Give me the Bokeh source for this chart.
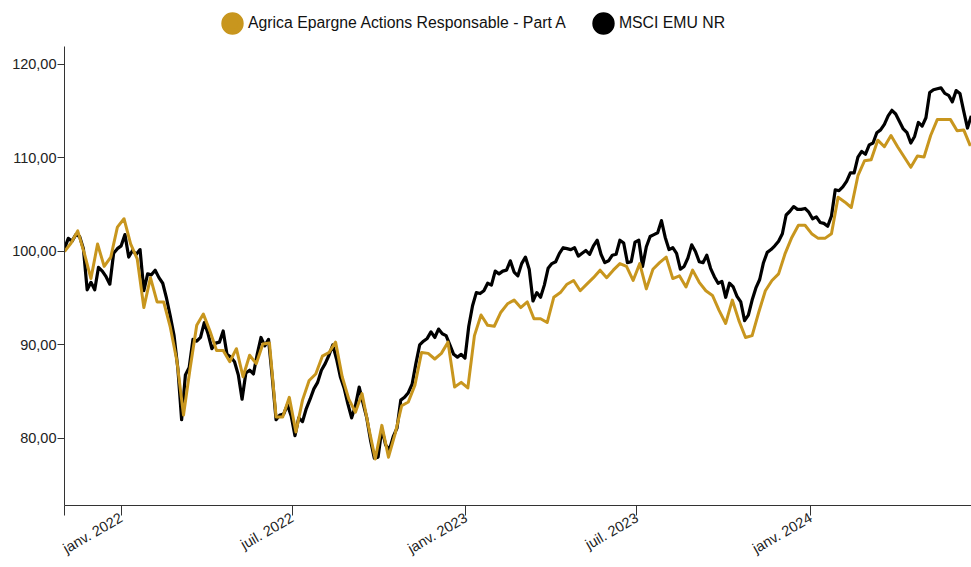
import math
import pandas as pd
from bokeh.plotting import figure
from bokeh.models import (Range1d, FixedTicker, CustomJSTickFormatter, Legend,
                          LegendItem)
from bokeh.embed import file_html
from bokeh.resources import INLINE

START = "2021-11-02"
END = "2024-06-19 06:00"

series_names = ["Agrica Epargne Actions Responsable - Part A", "MSCI EMU NR"]
series_colors = ["#C8961E", "#000000"]

# Fund: weekly values (base 100)
fund_values = [
    100.0, 100.9, 102.2, 99.8, 97.1, 100.8, 98.4, 99.4, 102.6, 103.5,
    100.8, 99.2, 94.0, 97.2, 94.6, 94.6, 91.9, 88.3, 82.5, 87.5,
    92.1, 93.3, 91.5, 89.4, 89.4, 88.2, 89.6, 86.6, 88.9, 88.0,
    90.1, 90.2, 82.3, 82.3, 84.4, 80.7, 84.1, 86.2, 86.9, 88.8,
    89.2, 90.3, 86.6, 84.2, 82.8, 84.8, 81.2, 77.8, 81.4, 78.0,
    80.5, 83.5, 83.9, 85.7, 89.2, 89.1, 88.5, 89.1, 90.3, 85.5,
    86.0, 85.4, 91.0, 93.2, 92.1, 92.0, 93.5, 94.4, 94.8, 94.0,
    94.6, 92.8, 92.8, 92.4, 95.1, 95.6, 96.5, 96.9, 95.8, 96.5,
    97.2, 98.0, 97.2, 98.0, 98.7, 98.4, 96.9, 98.7, 96.0, 98.1,
    98.8, 99.4, 97.1, 97.4, 96.2, 98.0, 96.7, 95.8, 95.3, 93.7,
    92.3, 94.8, 92.6, 90.8, 91.0, 93.5, 95.8, 96.9, 97.6, 99.8,
    101.5, 102.8, 102.8, 101.9, 101.4, 101.4, 101.9, 105.8, 105.3, 104.7,
    108.1, 109.7, 109.8, 111.9, 111.2, 112.4, 111.2, 110.1, 109.0, 110.2,
    110.1, 112.4, 114.1, 114.1, 114.1, 112.9, 113.0, 111.3,
]

# Index: values every 4 days (base 100)
index_values = [
    100.3, 101.4, 101.1, 101.8, 101.6, 100.3, 95.9, 96.7, 95.9, 98.3,
    97.9, 97.3, 96.5, 99.8, 100.3, 100.6, 101.8, 99.4, 100.1, 99.7,
    100.2, 95.8, 97.6, 97.5, 98.0, 97.2, 96.6, 95.0, 93.1, 91.0,
    87.5, 82.0, 86.8, 87.6, 90.6, 90.4, 90.8, 92.4, 91.2, 89.6,
    90.2, 90.3, 91.5, 89.0, 88.7, 88.2, 86.8, 84.2, 87.0, 87.3,
    86.9, 89.0, 90.8, 89.9, 90.6, 86.5, 82.0, 82.5, 82.6, 83.6,
    82.4, 80.3, 82.2, 81.8, 83.2, 84.2, 85.3, 86.0, 87.3, 88.0,
    88.9, 90.0, 88.5, 86.6, 85.4, 83.7, 82.2, 83.5, 85.5, 83.8,
    82.2, 79.8, 77.9, 78.0, 81.0, 79.3, 78.8, 80.2, 81.1, 84.1,
    84.4, 84.9, 85.8, 88.0, 90.0, 90.4, 90.7, 91.4, 90.8, 91.7,
    91.2, 91.0, 90.0, 89.0, 88.7, 89.0, 88.6, 92.0, 94.2, 95.6,
    95.5, 95.8, 96.6, 96.4, 97.9, 97.6, 97.9, 98.0, 99.0, 97.8,
    97.4, 98.7, 99.4, 98.1, 94.7, 95.6, 95.1, 96.4, 98.2, 98.7,
    98.9, 99.8, 100.4, 100.3, 100.2, 100.4, 99.5, 99.8, 100.1, 99.7,
    100.6, 101.2, 99.7, 98.8, 99.0, 99.6, 99.7, 101.2, 100.9, 98.8,
    98.9, 101.0, 101.2, 98.4, 100.5, 101.6, 101.8, 102.0, 103.3, 101.5,
    100.2, 100.4, 99.8, 98.1, 98.4, 99.3, 100.7, 100.0, 98.9, 98.8,
    99.6, 98.2, 97.3, 96.6, 96.8, 95.1, 96.6, 96.2, 95.2, 94.6,
    92.6, 93.2, 94.8, 96.1, 97.0, 98.8, 99.9, 100.2, 100.6, 101.1,
    101.9, 103.9, 104.3, 104.8, 104.5, 104.5, 104.6, 104.2, 103.5, 103.7,
    103.1, 103.0, 102.7, 103.8, 106.6, 106.5, 106.9, 107.5, 108.4, 108.4,
    110.1, 110.7, 110.4, 111.4, 111.6, 112.7, 113.0, 113.6, 114.5, 115.1,
    114.7, 113.9, 113.1, 112.7, 111.6, 112.3, 113.8, 113.4, 114.3, 117.0,
    117.3, 117.4, 117.5, 116.9, 116.7, 116.0, 117.2, 116.9, 115.0, 113.2,
    114.5,
]

fund_dates = pd.date_range(START, periods=len(fund_values), freq="7D")
index_dates = pd.date_range(START, periods=len(index_values), freq="4D")

x_tick_dates = ["2021-11-02", "2022-01-01", "2022-07-01", "2023-01-01",
                "2023-07-01", "2024-01-01"]
y_ticks = [80, 90, 100, 110, 120]
Y_AXIS_MIN, Y_AXIS_MAX = 72.83, 121.93
Y_VIEW_MAX = 126.84   # room above the axis for the legend

FONT = "Liberation Sans"
AXIS_COLOR = "#333333"

p = figure(width=971, height=567, x_axis_type="datetime",
           output_backend="svg", toolbar_location=None,
           x_range=Range1d(pd.Timestamp(START), pd.Timestamp(END)),
           y_range=Range1d(Y_AXIS_MIN, Y_VIEW_MAX),
           min_border_left=64, min_border_right=0,
           min_border_top=0, min_border_bottom=62)

p.xgrid.visible = False
p.ygrid.visible = False
p.outline_line_color = None
p.background_fill_color = "white"
p.border_fill_color = "white"

# legend swatch renderers: tiny 1px dots hidden under the lines; their legend
# glyph is a round dot scaled to the legend glyph box
ell_fund = p.ellipse(fund_dates, fund_values, width=1, height=1,
                     width_units="screen", height_units="screen",
                     fill_color=series_colors[0], line_color=None)
ell_index = p.ellipse(index_dates, index_values, width=1, height=1,
                      width_units="screen", height_units="screen",
                      fill_color=series_colors[1], line_color=None)
dot_fund = p.scatter(fund_dates, fund_values, marker="circle",
                     fill_color=series_colors[0], line_color=None,
                     visible=False)
dot_index = p.scatter(index_dates, index_values, marker="circle",
                      fill_color=series_colors[1], line_color=None,
                      visible=False)

r_index = p.line(index_dates, index_values, line_color=series_colors[1],
                 line_width=3.2, line_join="round")
r_fund = p.line(fund_dates, fund_values, line_color=series_colors[0],
                line_width=3, line_join="round")

legend = Legend(items=[LegendItem(label=series_names[0], renderers=[ell_fund, dot_fund]),
                       LegendItem(label=series_names[1], renderers=[ell_index, dot_index])],
                orientation="horizontal", location=(154, 468),
                glyph_width=28, glyph_height=28, label_height=22,
                label_standoff=2, spacing=23, padding=0, margin=0,
                border_line_color=None, background_fill_alpha=0,
                inactive_fill_alpha=0,
                label_text_font=FONT, label_text_font_size="15.8px",
                label_text_color="#111111")
p.add_layout(legend, "center")

# x axis
xa = p.xaxis[0]
xa.ticker = FixedTicker(ticks=[pd.Timestamp(d).value // 10**6 for d in x_tick_dates])
xa.formatter = CustomJSTickFormatter(code="""
const m = ['janv.','févr.','mars','avr.','mai','juin','juil.','août','sept.','oct.','nov.','déc.'];
const d = new Date(tick);
if (d.getUTCDate() != 1) { return ''; }
return m[d.getUTCMonth()] + ' ' + d.getUTCFullYear();
""")
xa.major_label_orientation = math.radians(30)
xa.major_tick_out = 10
xa.major_tick_in = 0
xa.minor_tick_line_color = None
xa.major_label_standoff = 1
xa.axis_line_color = AXIS_COLOR
xa.major_tick_line_color = AXIS_COLOR
xa.major_label_text_font = FONT
xa.major_label_text_font_size = "14.5px"
xa.major_label_text_color = "#222222"

# y axis
ya = p.yaxis[0]
ya.bounds = (Y_AXIS_MIN, Y_AXIS_MAX)
ya.ticker = FixedTicker(ticks=y_ticks)
ya.formatter = CustomJSTickFormatter(code="return tick.toFixed(2).replace('.', ',');")
ya.major_tick_out = 7
ya.major_tick_in = 0
ya.minor_tick_line_color = None
ya.major_label_standoff = 1
ya.axis_line_color = AXIS_COLOR
ya.major_tick_line_color = AXIS_COLOR
ya.major_label_text_font = FONT
ya.major_label_text_font_size = "14.5px"
ya.major_label_text_color = "#222222"

open("out.html", "w").write(file_html(p, INLINE))
